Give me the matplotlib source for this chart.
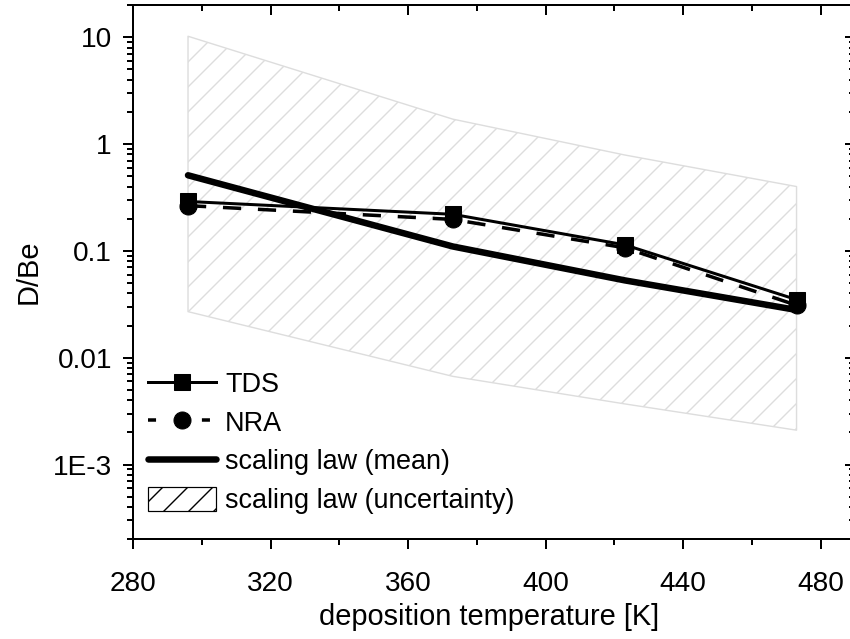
import matplotlib
matplotlib.use("Agg")
import matplotlib.pyplot as plt
from matplotlib.lines import Line2D
from matplotlib.patches import Patch
import matplotlib.ticker as mt

# deposition temperatures [K]
temps = [296, 373, 423, 473]
# measured D/Be ratios
tds = [0.29, 0.22, 0.114, 0.035]
nra = [0.265, 0.197, 0.107, 0.031]
# scaling law: mean curve and uncertainty band
law_mean = [0.51, 0.11, 0.053, 0.028]
law_upper = [10.2, 1.71, 0.79, 0.40]
law_lower = [0.027, 0.0067, 0.0037, 0.0021]

ytick_vals = [1e-3, 1e-2, 1e-1, 1, 10]
ytick_labels = ["1E-3", "0.01", "0.1", "1", "10"]
xtick_vals = [280, 320, 360, 400, 440, 480]

DPI = 75
W, H = 851, 639


def px(v):
    """pixels -> points at the figure resolution"""
    return v * 72.0 / DPI


plt.rcParams["font.family"] = ["Liberation Sans", "DejaVu Sans"]
plt.rcParams["hatch.linewidth"] = px(1.4)

fig = plt.figure(figsize=(W / DPI, H / DPI), dpi=DPI)
L, R, T, B = 133, 855, 5, 539.3
ax = fig.add_axes([L / W, (H - B) / H, (R - L) / W, (B - T) / H])

ax.fill_between(temps, law_lower, law_upper, facecolor="none",
                edgecolor="#dddddd", hatch="/", linewidth=px(1.4), zorder=1)
ax.plot(temps, law_mean, color="black", lw=px(6.5),
        solid_capstyle="round", solid_joinstyle="round", zorder=2)
ax.plot(temps, tds, color="black", lw=px(3), marker="s", ms=px(16), zorder=3)
ax.plot(temps, nra, color="black", lw=px(3.5), ls=(0, (5.2, 4.8)),
        marker="o", ms=px(17), zorder=4)

ax.set_yscale("log")
ax.set_xlim(280, 490)
ax.set_ylim(2e-4, 20)

ax.set_xticks(xtick_vals)
ax.xaxis.set_minor_locator(mt.MultipleLocator(20))
ax.set_yticks(ytick_vals)
ax.set_yticklabels(ytick_labels)
ax.yaxis.set_minor_locator(mt.LogLocator(base=10, subs=range(2, 10), numticks=20))
ax.yaxis.set_minor_formatter(mt.NullFormatter())

for s in ax.spines.values():
    s.set_linewidth(px(2))

fs_tick = px(28)
ax.tick_params(axis="both", which="both", width=px(2), labelsize=fs_tick,
               direction="out", top=False, right=False)
ax.tick_params(axis="both", which="major", length=px(10))
ax.tick_params(axis="both", which="minor", length=px(6))
ax.tick_params(axis="x", pad=px(22))
ax.tick_params(axis="y", pad=px(11))

# inward ticks on top and right sides
axt = ax.twiny()
axt.set_xlim(ax.get_xlim())
axt.set_xticks(xtick_vals)
axt.xaxis.set_minor_locator(mt.MultipleLocator(20))
axt.tick_params(axis="x", which="both", direction="in", width=px(2),
                labeltop=False, top=True, bottom=False)
axt.tick_params(axis="x", which="major", length=px(10))
axt.tick_params(axis="x", which="minor", length=px(6))

axr = ax.twinx()
axr.set_yscale("log")
axr.set_ylim(ax.get_ylim())
axr.set_yticks(ytick_vals)
axr.yaxis.set_minor_locator(mt.LogLocator(base=10, subs=range(2, 10), numticks=20))
axr.yaxis.set_minor_formatter(mt.NullFormatter())
axr.tick_params(axis="y", which="both", direction="in", width=px(2),
                labelright=False, right=True, left=False)
axr.tick_params(axis="y", which="major", length=px(10))
axr.tick_params(axis="y", which="minor", length=px(6))
for a in (axt, axr):
    for s in a.spines.values():
        s.set_linewidth(px(2))

ax.set_xlabel("deposition temperature [K]", fontsize=px(29))
ax.set_ylabel("D/Be", fontsize=px(29))
ax.xaxis.set_label_coords((489 - L) / (R - L), (B - 603) / (B - T))
ax.yaxis.set_label_coords((43 - L) / (R - L), 0.5)

h_tds = Line2D([], [], color="black", lw=px(3), marker="s", ms=px(16))
h_nra = Line2D([], [], color="black", lw=px(3.5), ls=(0, (2.3, 5.4)),
               marker="o", ms=px(17))
h_mean = Line2D([], [], color="black", lw=px(6.5), solid_capstyle="round")
h_unc = Patch(facecolor="white", edgecolor="black", hatch="/", lw=px(1.2))

leg = ax.legend([h_tds, h_nra, h_mean, h_unc],
                ["TDS", "NRA", "scaling law (mean)", "scaling law (uncertainty)"],
                loc="lower left", bbox_to_anchor=((148 - L) / (R - L), (B - 514) / (B - T)),
                frameon=False, fontsize=px(27), handlelength=2.52, handleheight=0.99,
                handletextpad=0.33, labelspacing=0.42, borderpad=0, borderaxespad=0)

fig.savefig("out.png", dpi=DPI)
